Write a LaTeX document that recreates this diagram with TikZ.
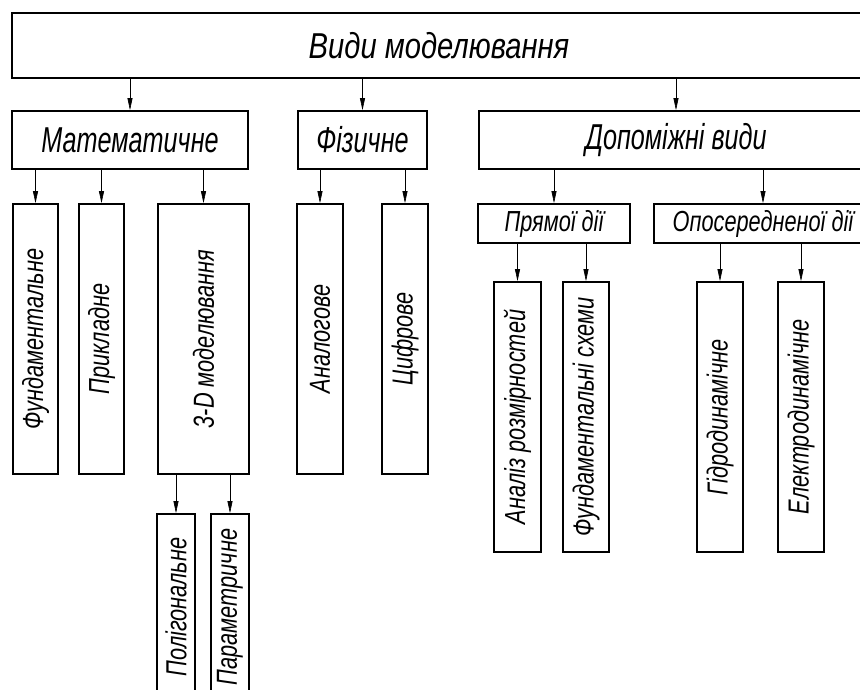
\documentclass[tikz,border=0pt]{standalone}
\usepackage{fontspec}
\newfontfamily\gostfont{Liberation Sans}[FakeStretch=0.75]
\newfontfamily\gostmid{Liberation Sans}[FakeStretch=0.70]
\newfontfamily\gostwide{Liberation Sans}[FakeStretch=0.81]
\usetikzlibrary{arrows.meta}
\usetikzlibrary{positioning}

\tikzset{
  box/.style={draw, line width=1.7pt, inner sep=0pt, align=center,
    font=\gostfont\itshape\fontsize{29}{32}\selectfont},
  midbox/.style={box, font=\gostmid\itshape\fontsize{36}{40}\selectfont},
  topbox/.style={box, font=\gostwide\itshape\fontsize{36}{40}\selectfont},
  vbox/.style={box, rotate=90},
  link/.style={line width=0.6pt, -{Triangle[length=12pt,width=5pt]}}
}

\begin{document}
\begin{tikzpicture}[x=1pt,y=-1pt]
  % Frame of the picture
  \useasboundingbox (0,0) rectangle (860,689);
  \clip (0,0) rectangle (860,689);

  % Top and second level
  \node[topbox, minimum width=854pt, minimum height=65pt] (vydy) at (439,45.5) {Види моделювання};
  \node[midbox, minimum width=236pt, minimum height=58pt] (mat) at (130,140) {Математичне};
  \node[midbox, minimum width=129pt, minimum height=58pt] (fiz) at (362.5,140) {Фізичне};
  \node[midbox, minimum width=394pt, minimum height=58pt] (dop) at (676,140) {Допоміжні види};

  % Third level
  \node[vbox, minimum width=270pt, minimum height=45pt] (fund) at (35.5,339) {Фундаментальне};
  \node[vbox, minimum width=270pt, minimum height=45pt] (prykl) at (101.5,339) {Прикладне};
  \node[vbox, minimum width=270pt, minimum height=91pt] (trid) at (203.5,339) {3-D моделювання};
  \node[vbox, minimum width=270pt, minimum height=46pt] (anal) at (320,339) {Аналогове};
  \node[vbox, minimum width=270pt, minimum height=46pt] (tsyf) at (405,339) {Цифрове};
  \node[box, minimum width=152pt, minimum height=39pt] (pryam) at (554,223.5) {Прямої дії};
  \node[box, minimum width=218pt, minimum height=39pt] (opos) at (763,223.5) {Опосередненої дії};

  % Fourth level
  \node[vbox, minimum width=270pt, minimum height=47pt] (rozm) at (517.5,417) {Аналіз розмірностей};
  \node[vbox, minimum width=270pt, minimum height=46pt] (skhem) at (586,417) {Фундаментальні схеми};
  \node[vbox, minimum width=270pt, minimum height=46pt] (hidro) at (720,417) {Гідродинамічне};
  \node[vbox, minimum width=270pt, minimum height=46pt] (elek) at (801,417) {Електродинамічне};
  \node[vbox, minimum width=186pt, minimum height=38pt] (polig) at (176,607) {Полігональне};
  \node[vbox, minimum width=186pt, minimum height=38pt] (param) at (230,607) {Параметричне};

  % Arrows to boxes lying flat
  \foreach \p/\c in {vydy/mat, vydy/fiz, vydy/dop, dop/pryam, dop/opos}
    \draw[link] (\p.south -| \c.center) -- (\c.north);

  % Arrows to standing boxes
  \foreach \p/\c in {mat/fund, mat/prykl, mat/trid, fiz/anal, fiz/tsyf,
                     pryam/rozm, pryam/skhem, opos/hidro, opos/elek}
    \draw[link] (\p.south -| \c.center) -- (\c.east);
  \foreach \c in {polig, param}
    \draw[link] (trid.west -| \c.center) -- (\c.east);
\end{tikzpicture}
\end{document}
